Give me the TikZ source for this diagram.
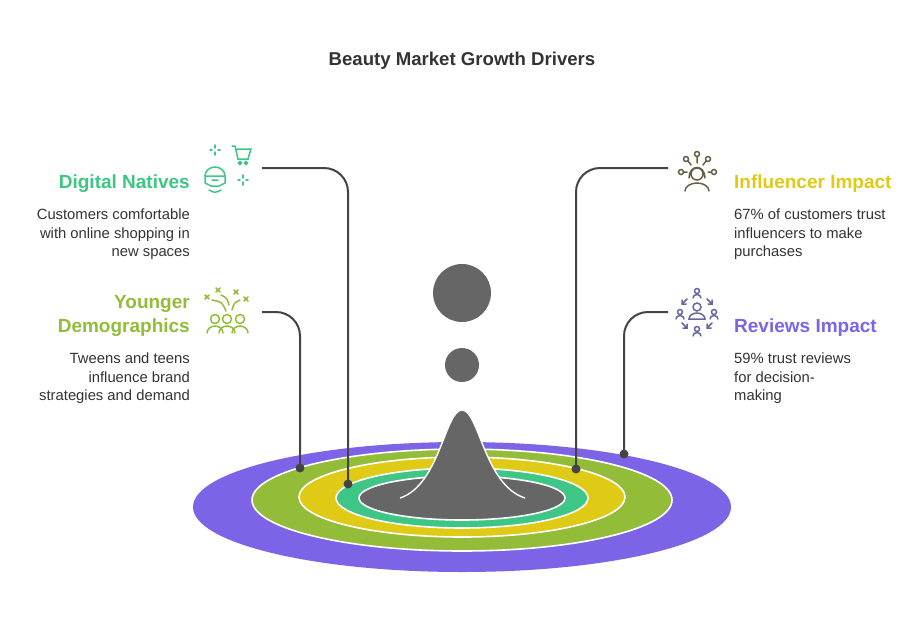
\documentclass[tikz,border=0pt]{standalone}
\usepackage{fontspec}
\setmainfont{Liberation Sans}
\usetikzlibrary{calc}
\definecolor{cpurple}{HTML}{7D64E6}
\definecolor{colive}{HTML}{93BC38}
\definecolor{cyellow}{HTML}{DFCA16}
\definecolor{cteal}{HTML}{3DC685}
\definecolor{cgray}{HTML}{666666}
\definecolor{cline}{HTML}{444444}
\definecolor{ctext}{HTML}{333333}
\tikzset{
  ring/.style={draw=white,line width=1.6pt},
  leader/.style={draw=cline,line width=2pt,rounded corners=24pt},
  head/.style={inner sep=0pt,font=\bfseries\fontsize{19}{24}\selectfont},
  desc/.style={inner sep=0pt,font=\fontsize{14.8}{18.5}\selectfont,text=ctext},
  icon/.style={line width=1.5pt,line cap=round}
}
\begin{document}
\begin{tikzpicture}[x=1pt,y=-1pt]
	\useasboundingbox[fill=white] (0,0) rectangle (924,622);
	%TITLE
	\node[font=\bfseries\fontsize{18.6}{20}\selectfont,text=ctext] (title) at (462,61) {Beauty Market Growth Drivers};
	%RINGS
	\fill[cpurple] (462,507) ellipse (269 and 65);
	\draw[ring,fill=colive] (462,500) ellipse (210 and 51);
	\draw[ring,fill=cyellow] (462,497) ellipse (163 and 40);
	\draw[ring,fill=cteal] (462,498) ellipse (126 and 30);
	\draw[ring,fill=cgray] (462,498) ellipse (103 and 22);
	%DROP
	\draw[white,line width=1.4pt,fill=cgray] (400,498) .. controls (440,485) and (445,410) .. (462,410) .. controls (479,410) and (484,485) .. (525,498);
	\fill[cgray] (462,365) circle (17);
	\fill[cgray] (462,293) circle (29);
	%LEADERS
	\coordinate (dn) at (348,484);
	\coordinate (yd) at (300,468);
	\coordinate (ii) at (576,469);
	\coordinate (ri) at (624,454);
	\draw[leader] (262,168) -| (dn);
	\draw[leader] (262,312) -| (yd);
	\draw[leader] (668,168) -| (ii);
	\draw[leader] (668,312) -| (ri);
	\foreach \p in {dn,yd,ii,ri} \fill[cline] (\p) circle (4.5);
	%LABELS
	\node[head,text=cteal,anchor=base east] (dnhead) at (190,188) {Digital Natives};
	\node[desc,anchor=north east,align=right] (dndesc) at (190,209) {Customers comfortable\\with online shopping in\\new spaces};
	\node[head,text=colive,anchor=base east] (ydhead) at (190,308) {Younger};
	\node[head,text=colive,anchor=base east] (ydhead2) at (190,332) {Demographics};
	\node[desc,anchor=north east,align=right] (yddesc) at (190,353) {Tweens and teens\\influence brand\\strategies and demand};
	\node[head,text=cyellow,anchor=base west] (iihead) at (734,188) {Influencer Impact};
	\node[desc,anchor=north west,align=left] (iidesc) at (734,209) {67\% of customers trust\\influencers to make\\purchases};
	\node[head,text=cpurple,anchor=base west] (rihead) at (734,332) {Reviews Impact};
	\node[desc,anchor=north west,align=left] (ridesc) at (734,353) {59\% trust reviews\\for decision-\\making};
	%ICONS
	\begin{scope}[icon,draw=cteal]
		\draw (205,176) arc (180:360:10 and 9);
		\draw (205,176) -- (225,176) -- (225,183) -- (219,186) -- (211,186) -- (205,183) -- cycle;
		\draw (212,180) -- (218,180) (209,190) .. controls (215,193) .. (221,190);
		\draw (232,146) -- (235,146) -- (238,159) -- (248,159) -- (251,149) -- (236,149);
		\draw (240,163) circle (1.5) (246,163) circle (1.5);
		\draw (215,145) -- (215,148) (215,152) -- (215,155) (210,150) -- (212,150) (218,150) -- (220,150);
		\draw (243,175) -- (243,178) (243,182) -- (243,185) (238,180) -- (240,180) (246,180) -- (248,180);
	\end{scope}
	\begin{scope}[icon,draw=colive]
		\foreach \x in {215,227,240} \draw (\x,319) circle (4.5) (\x-8,333) arc (180:360:8 and 7);
		\draw (212,300) .. controls (222,302) .. (226,311) (232,310) .. controls (234,303) .. (240,300) (221,295) .. controls (227,298) .. (229,305);
		\foreach \x/\y in {207/297,218/290,236/292,246/299} \draw (\x-2,\y-2) -- (\x+2,\y+2) (\x-2,\y+2) -- (\x+2,\y-2);
	\end{scope}
	\begin{scope}[icon,draw=black!70!yellow]
		\draw (697,174) circle (6) (685,191) arc (180:360:12 and 8) (689,178) .. controls (689,164) and (705,164) .. (705,178);
		\draw (697,157) -- (697,163) (697,154) circle (2.5) (686,159) circle (2.5) (688,161) -- (691,165) (708,159) circle (2.5) (706,161) -- (703,165);
		\draw (681,172) circle (2.5) (683.5,172) -- (687,172) (714,172) circle (2.5) (711.5,172) -- (708,172);
	\end{scope}
	\begin{scope}[icon,draw=black!60!blue!60]
		\draw (697,307) circle (4) (689,319) arc (180:360:8 and 6) -- cycle;
		\foreach \x/\y in {697/293,680/314,714/314,697/331} \draw (\x,\y-2) circle (2.5) (\x-4,\y+5) arc (180:360:4 and 3.5);
		\draw (687,299) -- (682,304) (682,300) -- (682,304) -- (686,304);
		\draw (707,299) -- (712,304) (712,300) -- (712,304) -- (708,304);
		\draw (682,323) -- (687,328) (683,328) -- (687,328) -- (687,324);
		\draw (712,323) -- (707,328) (711,328) -- (707,328) -- (707,324);
	\end{scope}
\end{tikzpicture}
\end{document}
